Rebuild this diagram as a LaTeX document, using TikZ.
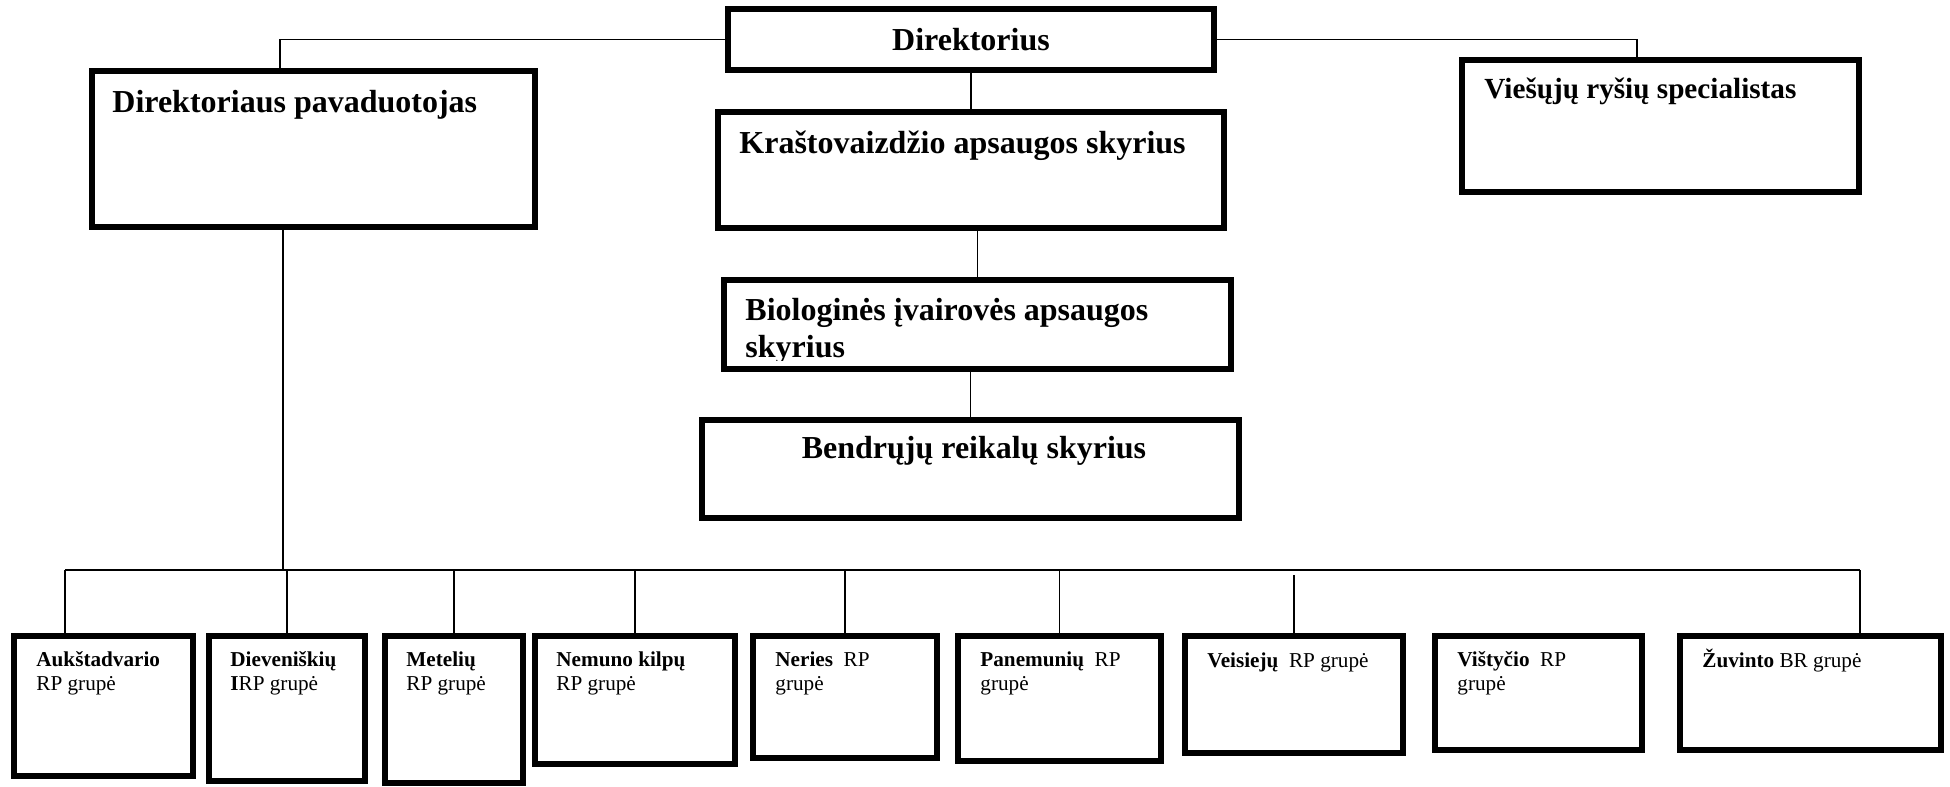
\documentclass[tikz,border=0pt]{standalone}
\usepackage{fontspec}
\setmainfont{Liberation Serif}
\usetikzlibrary{calc}

\tikzset{
  unitbox/.style={draw, line width=3pt, fill=white, inner sep=0pt, outer sep=0pt, anchor=north west},
  link/.style={line width=0.9pt},
  bigtext/.style={inner sep=0pt, anchor=base west, align=left, font=\fontsize{16}{18.5}\selectfont\bfseries},
  smalltext/.style={inner sep=0pt, anchor=base west, align=left, font=\fontsize{10.6}{11.75}\selectfont}
}

\begin{document}
\begin{tikzpicture}[x=0.5pt, y=-0.5pt]

\useasboundingbox (0, 0) rectangle (1950, 787);

% upper boxes
\node[unitbox, minimum width=243pt, minimum height=30.5pt] (dir) at (728, 9) {};
\node[unitbox, minimum width=221.5pt, minimum height=78pt] (dp) at (92, 71) {};
\node[unitbox, minimum width=253pt, minimum height=58pt] (ks) at (718, 112) {};
\node[unitbox, minimum width=198.5pt, minimum height=66pt] (vr) at (1462, 60) {};
\node[unitbox, minimum width=253.5pt, minimum height=44.5pt] (bio) at (724, 280) {};
\node[unitbox, minimum width=268.5pt, minimum height=49pt] (brs) at (702, 420) {};

\node[bigtext, anchor=base] (dir-t) at (971, 50) {Direktorius};
\node[bigtext] (dp-t) at (112, 112) {Direktoriaus pavaduotojas};
\node[bigtext] (ks-t) at (739, 153) {Kraštovaizdžio apsaugos skyrius};
\node[bigtext, font=\fontsize{14.6}{17}\selectfont\bfseries] (vr-t) at (1484, 98) {Viešųjų ryšių specialistas};
% the last line sits on the border, its descender is cut
\begin{scope}
  \clip (bio.north west) rectangle ([yshift=4.5pt]bio.south east);
  \node[bigtext] (bio-t) at (745, 357) {Biologinės įvairovės apsaugos\\skyrius};
\end{scope}
\node[bigtext, anchor=base] (brs-t) at (974, 458) {Bendrųjų reikalų skyrius};

% groups
\node[unitbox, minimum width=89.5pt, minimum height=70pt] (auk) at (14, 636) {};
\node[unitbox, minimum width=78pt, minimum height=72.5pt] (die) at (209, 636) {};
\node[unitbox, minimum width=69pt, minimum height=73.5pt] (met) at (385, 636) {};
\node[unitbox, minimum width=100pt, minimum height=64pt] (nem) at (535, 636) {};
\node[unitbox, minimum width=92pt, minimum height=61pt] (ner) at (753, 636) {};
\node[unitbox, minimum width=101.5pt, minimum height=62.5pt] (pan) at (958, 636) {};
\node[unitbox, minimum width=109pt, minimum height=58.5pt] (vei) at (1185, 636) {};
\node[unitbox, minimum width=103.5pt, minimum height=57pt] (vis) at (1435, 636) {};
\node[unitbox, minimum width=130.5pt, minimum height=57pt] (zuv) at (1680, 636) {};

\node[smalltext] (auk-t) at (36, 690) {\textbf{Aukštadvario}\\RP grupė};
\node[smalltext] (die-t) at (230, 690) {\textbf{Dieveniškių}\\\textbf{I}RP grupė};
\node[smalltext] (met-t) at (406, 690) {\textbf{Metelių}\\RP grupė};
\node[smalltext] (nem-t) at (556, 690) {\textbf{Nemuno kilpų}\\RP grupė};
\node[smalltext] (ner-t) at (775, 690) {\textbf{Neries}\ \ RP\\grupė};
\node[smalltext] (pan-t) at (980, 690) {\textbf{Panemunių}\ \ RP\\grupė};
\node[smalltext] (vei-t) at (1207, 667) {\textbf{Veisiejų}\ \ RP grupė};
\node[smalltext] (vis-t) at (1457, 690) {\textbf{Vištyčio}\ \ RP\\grupė};
\node[smalltext] (zuv-t) at (1702, 667) {\textbf{Žuvinto} BR grupė};

% connectors
\coordinate (dpin) at ([xshift=-16.75pt]dp.north);
\coordinate (vrin) at ([xshift=-11.75pt]vr.north);
\coordinate (dpout) at ([xshift=-15.25pt]dp.south);
\coordinate (busl) at (65, 570);
\coordinate (busr) at (1860, 570);

\draw[link] (dir.west) -| (dpin);
\draw[link] (dir.east) -| (vrin);
\draw[link] (dir.south) -- (ks.north);
\draw[link] (ks.south -| bio.north) -- (bio.north);
\draw[link] (bio.south -| brs.north) -- (brs.north);
\draw[link] (dpout) -- (dpout |- busl);
\draw[link] (busl) -- (busr);
\draw[link] (busl) -- (busl |- auk.north);
\foreach \n in {die, met, nem, ner, pan}
  \draw[link] (\n.north) -- (\n.north |- busl);
\draw[link] (vei.north) -- ++(0, -61);
\draw[link] (busr) -- (busr |- zuv.north);

\end{tikzpicture}
\end{document}
